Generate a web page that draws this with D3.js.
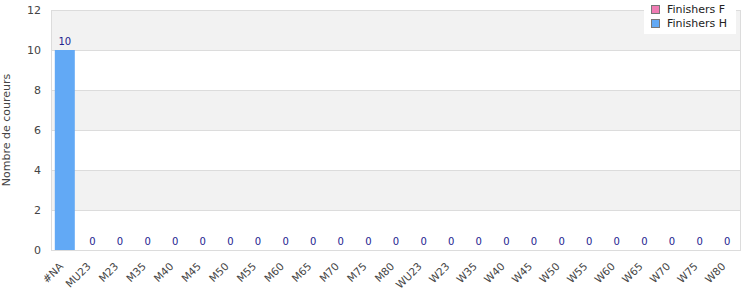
<!DOCTYPE html>
<html>
<head>
<meta charset="utf-8">
<script src="https://cdn.jsdelivr.net/npm/d3@7"></script>
<style>
  body { margin: 0; background: #fff; }
  text { font-family: "DejaVu Sans", Verdana, sans-serif; }
</style>
</head>
<body>
<svg width="750" height="300"></svg>
<script>
var categories = ["#NA", "MU23", "M23", "M35", "M40", "M45", "M50", "M55", "M60", "M65", "M70", "M75", "M80",
  "WU23", "W23", "W35", "W40", "W45", "W50", "W55", "W60", "W65", "W70", "W75", "W80"];
var finishersF = [0, 0, 0, 0, 0, 0, 0, 0, 0, 0, 0, 0, 0, 0, 0, 0, 0, 0, 0, 0, 0, 0, 0, 0, 0];
var finishersH = [10, 0, 0, 0, 0, 0, 0, 0, 0, 0, 0, 0, 0, 0, 0, 0, 0, 0, 0, 0, 0, 0, 0, 0, 0];
var seriesNames = ["Finishers F", "Finishers H"];
var seriesColors = ["#f07cb4", "#62a9f5"];
var yTicks = [0, 2, 4, 6, 8, 10, 12];

var svg = d3.select("svg"),
    margin = {top: 10, right: 9, bottom: 50, left: 51},
    width = 750 - margin.left - margin.right,
    height = 300 - margin.top - margin.bottom;

var rows = categories.map(function(c, i) {
  return {cat: c, F: finishersF[i], H: finishersH[i]};
});
var stack = d3.stack().keys(["F", "H"])(rows);

var x = d3.scaleBand().domain(categories).range([0, width]).paddingInner(0.275).paddingOuter(0.1375);
var y = d3.scaleLinear().domain([0, 12]).range([height, 0]);

var g = svg.append("g").attr("transform", "translate(" + margin.left + "," + margin.top + ")");

// alternating bands
for (var i = 0; i < yTicks.length - 1; i++) {
  if (i % 2 == 1) {
    g.append("rect")
      .attr("x", 0).attr("width", width)
      .attr("y", y(yTicks[i + 1])).attr("height", y(yTicks[i]) - y(yTicks[i + 1]))
      .attr("fill", "#f2f2f2");
  }
}

g.append("g").selectAll("line")
  .data(yTicks)
  .enter().append("line")
  .attr("x1", 0).attr("x2", width)
  .attr("y1", function(d) { return y(d) + 0.5; })
  .attr("y2", function(d) { return y(d) + 0.5; })
  .attr("stroke", "#dcdcdc");

g.append("rect")
  .attr("x", 0.5).attr("y", 0.5).attr("width", width - 1).attr("height", height)
  .attr("fill", "none").attr("stroke", "#dcdcdc");

// bars
g.append("g").selectAll("g")
  .data(stack)
  .enter().append("g")
  .attr("fill", function(d, i) { return seriesColors[i]; })
  .selectAll("rect")
  .data(function(d) { return d; })
  .enter().append("rect")
  .attr("x", function(d) { return x(d.data.cat); })
  .attr("width", x.bandwidth())
  .attr("y", function(d) { return y(d[1]); })
  .attr("height", function(d) { return y(d[0]) - y(d[1]); });

// value labels
g.append("g").selectAll("text")
  .data(rows)
  .enter().append("text")
  .attr("x", function(d) { return x(d.cat) + x.bandwidth() / 2; })
  .attr("y", function(d) { return y(d.F + d.H) - 5; })
  .attr("text-anchor", "middle")
  .attr("font-size", 10)
  .attr("fill", "#23238f")
  .text(function(d) { return d.F + d.H; });

// y axis
var yAxis = g.append("g")
  .call(d3.axisLeft(y).tickValues(yTicks).tickSize(0).tickPadding(10));
yAxis.select(".domain").remove();
yAxis.selectAll("text").attr("font-size", 11).attr("fill", "#444").style("font-family", "DejaVu Sans, sans-serif");

// x axis
var xAxis = g.append("g")
  .attr("transform", "translate(0," + height + ")")
  .call(d3.axisBottom(x).tickSize(0));
xAxis.select(".domain").remove();
xAxis.selectAll("text")
  .attr("font-size", 10.5)
  .attr("fill", "#444")
  .style("font-family", "DejaVu Sans, sans-serif")
  .attr("text-anchor", "end")
  .attr("x", 0).attr("y", 0).attr("dy", 0)
  .attr("transform", "translate(-1,17) rotate(-45)");

svg.append("text")
  .attr("transform", "translate(10," + (margin.top + height / 2) + ") rotate(-90)")
  .attr("text-anchor", "middle")
  .attr("font-size", 11)
  .attr("fill", "#444")
  .text("Nombre de coureurs");

// legend
var legend = svg.append("g").attr("transform", "translate(644,0)");
legend.append("rect").attr("width", 92).attr("height", 34).attr("fill", "#fff");
seriesNames.forEach(function(n, i) {
  legend.append("rect")
    .attr("x", 7.5).attr("y", 5.5 + i * 14).attr("width", 8).attr("height", 8)
    .attr("fill", seriesColors[i]).attr("stroke", "#777");
  legend.append("text")
    .attr("x", 23).attr("y", 13 + i * 14)
    .attr("font-size", 11).attr("fill", "#222")
    .text(n);
});
</script>
</body>
</html>
